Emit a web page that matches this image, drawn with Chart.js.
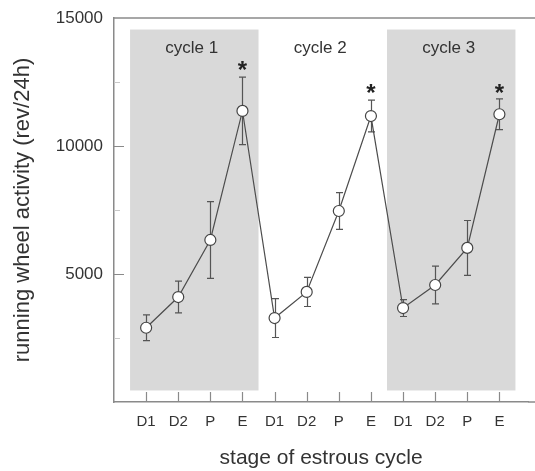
<!DOCTYPE html>
<html>
<head>
<meta charset="utf-8">
<script src="https://cdn.jsdelivr.net/npm/chart.js@4.4.1/dist/chart.umd.min.js"></script>
<style>
  html, body { margin: 0; padding: 0; background: #fff; }
  #wrap { width: 535px; height: 471px; position: relative; }
</style>
</head>
<body>
<div id="wrap"><canvas id="c" width="535" height="471"></canvas></div>
<script>
// stage of estrous cycle, three consecutive cycles
const stages   = ['D1', 'D2', 'P', 'E', 'D1', 'D2', 'P', 'E', 'D1', 'D2', 'P', 'E'];
// mean running wheel activity (rev/24h)
const activity = [2900, 4100, 6330, 11370, 3280, 4300, 7460, 11170, 3670, 4570, 6020, 11240];
// error bar half-lengths
const errors   = [500, 620, 1500, 1320, 760, 570, 720, 620, 330, 740, 1070, 600];

// shaded cycles (x ranges in stage-index units) and their labels
const shadeFrom   = [-0.5, 7.5];
const shadeTo     = [3.5, 11.5];
const shadeBottom = 450;
const shadeTop    = 14550;
const cycleLabels = ['cycle 1', 'cycle 2', 'cycle 3'];
const cycleLabelX = [1.42, 5.42, 9.42];
const cycleLabelY = 13830;

// significance marks
const starIdx = [3, 7, 11];
const starY   = [13120, 12230, 12230];

const yTicks      = [5000, 10000, 15000];
const yMinorTicks = [2500, 7500, 12500];

const FONT = '"Liberation Sans", Arial, Helvetica, sans-serif';
const AXIS = '#8a8a8a';
const INK  = '#333333';

const decorPlugin = {
  id: 'decor',
  beforeDatasetsDraw(chart) {
    const { ctx, scales: { x, y } } = chart;
    ctx.save();
    // gray cycle boxes
    ctx.fillStyle = '#d9d9d9';
    shadeFrom.forEach((from, i) => {
      const x0 = x.getPixelForValue(from), x1 = x.getPixelForValue(shadeTo[i]);
      const y0 = y.getPixelForValue(shadeTop), y1 = y.getPixelForValue(shadeBottom);
      ctx.fillRect(x0, y0, x1 - x0, y1 - y0);
    });
    // cycle labels
    ctx.fillStyle = INK;
    ctx.font = '17px ' + FONT;
    ctx.textAlign = 'center';
    ctx.textBaseline = 'middle';
    cycleLabels.forEach((t, i) => {
      ctx.fillText(t, x.getPixelForValue(cycleLabelX[i]), y.getPixelForValue(cycleLabelY));
    });
    // error bars
    ctx.strokeStyle = '#555';
    ctx.lineWidth = 1.2;
    activity.forEach((v, i) => {
      const px = Math.round(x.getPixelForValue(i)) + 0.5;
      const top = y.getPixelForValue(v + errors[i]);
      const bot = y.getPixelForValue(v - errors[i]);
      ctx.beginPath();
      ctx.moveTo(px, top); ctx.lineTo(px, bot);
      ctx.moveTo(px - 3.5, top); ctx.lineTo(px + 3.5, top);
      ctx.moveTo(px - 3.5, bot); ctx.lineTo(px + 3.5, bot);
      ctx.stroke();
    });
    ctx.restore();
  },
  afterDraw(chart) {
    const { ctx, chartArea: a, scales: { x, y } } = chart;
    ctx.save();
    ctx.strokeStyle = AXIS;
    ctx.lineWidth = 1.5;
    // top frame line, runs to the edge of the figure
    ctx.beginPath();
    ctx.moveTo(a.left, a.top); ctx.lineTo(chart.width, a.top);
    ctx.stroke();
    // bottom axis continues to the edge too
    ctx.beginPath();
    ctx.moveTo(a.right, a.bottom); ctx.lineTo(chart.width, a.bottom);
    ctx.stroke();
    // inward tick marks
    ctx.lineWidth = 1.2;
    ctx.beginPath();
    stages.forEach((_, i) => {
      const px = Math.round(x.getPixelForValue(i)) + 0.5;
      ctx.moveTo(px, a.bottom); ctx.lineTo(px, a.bottom - 10);
    });
    yTicks.slice(0, 2).forEach(v => {
      const py = Math.round(y.getPixelForValue(v)) + 0.5;
      ctx.moveTo(a.left, py); ctx.lineTo(a.left + 10, py);
    });
    ctx.stroke();
    ctx.strokeStyle = '#c8c8c8';
    ctx.beginPath();
    yMinorTicks.forEach(v => {
      const py = Math.round(y.getPixelForValue(v)) + 0.5;
      ctx.moveTo(a.left, py); ctx.lineTo(a.left + 6, py);
    });
    ctx.stroke();
    // asterisks
    ctx.fillStyle = '#222';
    ctx.font = 'bold 24px ' + FONT;
    ctx.textAlign = 'center';
    ctx.textBaseline = 'alphabetic';
    starIdx.forEach((idx, i) => {
      ctx.fillText('*', x.getPixelForValue(idx), y.getPixelForValue(starY[i]) + 12);
    });
    ctx.restore();
  }
};

new Chart(document.getElementById('c'), {
  type: 'scatter',
  data: {
    datasets: [{
      data: activity.map((v, i) => ({ x: i, y: v })),
      showLine: true,
      borderColor: '#4d4d4d',
      borderWidth: 1.2,
      pointRadius: 5.5,
      pointBackgroundColor: '#ffffff',
      pointBorderColor: '#444',
      pointBorderWidth: 1.2,
    }],
  },
  options: {
    responsive: false,
    animation: false,
    layout: { padding: { top: 18, right: 0, left: 0, bottom: 0 } },
    plugins: { legend: { display: false }, tooltip: { enabled: false } },
    scales: {
      x: {
        type: 'linear',
        min: -1,
        max: 11.9,
        afterBuildTicks: s => { s.ticks = stages.map((_, i) => ({ value: i })); },
        afterFit: s => { s.height = 69; },
        grid: { display: false },
        border: { display: true, color: AXIS, width: 1.5 },
        ticks: {
          autoSkip: false, maxRotation: 0, padding: 3,
          color: INK, font: { family: FONT, size: 15 },
          callback: v => stages[v],
        },
        title: {
          display: true, text: 'stage of estrous cycle', color: INK,
          font: { family: FONT, size: 21 }, padding: { top: 0, bottom: 0 },
        },
      },
      y: {
        min: 0,
        max: 15000,
        afterBuildTicks: s => { s.ticks = yTicks.map(v => ({ value: v })); },
        afterFit: s => { s.width = 114; },
        grid: { display: false },
        border: { display: true, color: AXIS, width: 1.5 },
        ticks: {
          padding: 3, color: INK, font: { family: FONT, size: 17 },
          callback: v => String(v),
        },
        title: {
          display: true, text: 'running wheel activity (rev/24h)', color: INK,
          font: { family: FONT, size: 22 }, padding: { top: 10, bottom: 0 },
        },
      },
    },
  },
  plugins: [decorPlugin],
});
</script>
</body>
</html>
